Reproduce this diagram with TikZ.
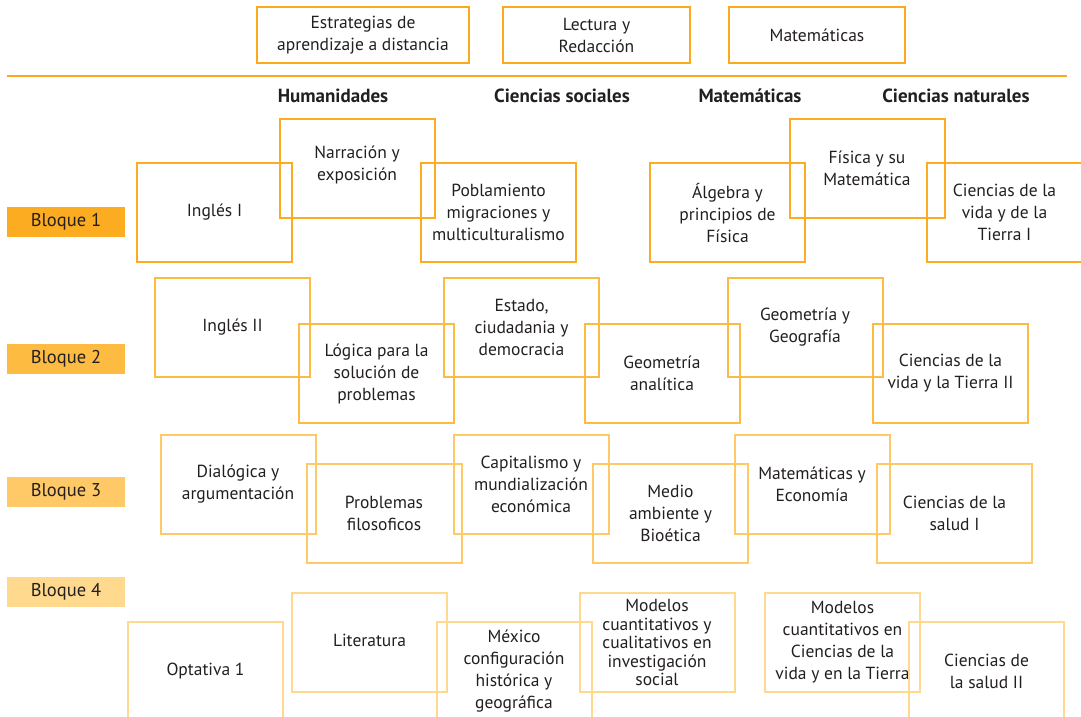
\documentclass[tikz,border=0pt]{standalone}
\usepackage{fontspec}
\setmainfont{PT Sans}
\usepackage{xcolor}
\definecolor{corange}{RGB}{251,170,30}
\definecolor{cbloqA}{RGB}{252,172,32}
\definecolor{cbloqB}{RGB}{253,187,66}
\definecolor{cbloqC}{RGB}{254,201,102}
\definecolor{cbloqD}{RGB}{255,217,142}
\definecolor{ctext}{RGB}{35,31,32}

\begin{document}
\begin{tikzpicture}[x=1pt, y=-1pt,
    every node/.style={text=ctext, font=\fontsize{17.5}{22}\selectfont},
    topbox/.style={draw=corange, line width=2pt, minimum height=56pt, align=center},
    subj/.style={draw, line width=2pt, minimum width=155pt, minimum height=99pt, align=center},
    bloque/.style={minimum width=118pt, minimum height=30pt, inner sep=0pt, font=\fontsize{18.5}{22}\selectfont},
    area/.style={font=\fontsize{19}{22}\selectfont\bfseries},
  ]
  \useasboundingbox (0,0) rectangle (1081,717);
  \clip (0,0) rectangle (1081,717);

  % tronco comun
  \node[topbox, minimum width=212pt] (estrategias) at (363,35) {Estrategias de\\aprendizaje a distancia};
  \node[topbox, minimum width=187pt] (lectura) at (596.5,35) {Lectura y\\Redacción};
  \node[topbox, minimum width=176pt] (matematicas) at (817,35) {Matemáticas};
  \coordinate (lineL) at (7,76);
  \coordinate (lineR) at (1067,76);
  \draw[corange, line width=2.5pt] (lineL) -- (lineR);

  % areas
  \node[area] (humanidades) at (333,96) {Humanidades};
  \node[area] (sociales) at (562,96) {Ciencias sociales};
  \node[area] (mate) at (750,96) {Matemáticas};
  \node[area] (naturales) at (956,96) {Ciencias naturales};

  % Bloque 1
  \node[bloque, fill=cbloqA] (b1) at (66,221.5) {Bloque 1\hspace{4pt}};
  \node[subj, draw=cbloqA] (ingles1) at (214.5,212.5) {Inglés I};
  \node[subj, draw=cbloqA, text depth=10pt] (narracion) at (357,168.5) {Narración y\\exposición};
  \node[subj, draw=cbloqA] (poblamiento) at (498.5,212.5) {Poblamiento\\migraciones y\\multiculturalismo};
  \node[subj, draw=cbloqA] (algebra) at (727.5,212.5) {Álgebra y\\principios de\\Física};
  \node[subj, draw=cbloqA] (fisica) at (867,168.5) {Física y su\\Matemática};
  \node[subj, draw=cbloqA] (vida1) at (1004.5,212.5) {Ciencias de la\\vida y de la\\Tierra I};

  % Bloque 2
  \node[bloque, fill=cbloqB] (b2) at (66,359) {Bloque 2\hspace{4pt}};
  \node[subj, draw=cbloqB] (ingles2) at (232.5,327.5) {Inglés II};
  \node[subj, draw=cbloqB] (logica) at (376.5,373.5) {Lógica para la\\solución de\\problemas};
  \node[subj, draw=cbloqB] (estado) at (521.5,327.5) {Estado,\\ciudadania y\\democracia};
  \node[subj, draw=cbloqB] (geoana) at (662,373.5) {Geometría\\analítica};
  \node[subj, draw=cbloqB] (geogeo) at (805,327.5) {Geometría y\\Geografía};
  \node[subj, draw=cbloqB] (vida2) at (950.5,373.5) {Ciencias de la\\vida y la Tierra II};

  % Bloque 3
  \node[bloque, fill=cbloqC] (b3) at (66,492) {Bloque 3\hspace{4pt}};
  \node[subj, draw=cbloqC] (dialogica) at (238,484.5) {Dialógica y\\argumentación};
  \node[subj, draw=cbloqC] (problemas) at (384,513.5) {Problemas\\filosoficos};
  \node[subj, draw=cbloqC] (capitalismo) at (531,484.5) {Capitalismo y\\mundialización\\económica};
  \node[subj, draw=cbloqC] (medio) at (670.5,513.5) {Medio\\ambiente y\\Bioética};
  \node[subj, draw=cbloqC] (mateco) at (812,484.5) {Matemáticas y\\Economía};
  \node[subj, draw=cbloqC] (salud1) at (954.5,513.5) {Ciencias de la\\salud I};

  % Bloque 4
  \node[bloque, fill=cbloqD] (b4) at (66,592) {Bloque 4\hspace{4pt}};
  \node[subj, draw=cbloqD] (optativa) at (205.5,671.5) {Optativa 1};
  \node[subj, draw=cbloqD] (literatura) at (369.5,642.5) {\raisebox{4pt}{Literatura}};
  \node[subj, draw=cbloqD] (mexico) at (514,671.5) {México\\configuración\\histórica y\\geográfica};
  \node[subj, draw=cbloqD, font=\fontsize{17.5}{18.5}\selectfont] (modsoc) at (657,642.5) {Modelos\\cuantitativos y\\cualitativos en\\investigación\\social};
  \node[subj, draw=cbloqD] (modvida) at (842.5,642.5) {Modelos\\cuantitativos en\\Ciencias de la\\vida y en la Tierra};
  \node[subj, draw=cbloqD] (salud2) at (986.5,671.5) {Ciencias de\\la salud II};
\end{tikzpicture}
\end{document}
